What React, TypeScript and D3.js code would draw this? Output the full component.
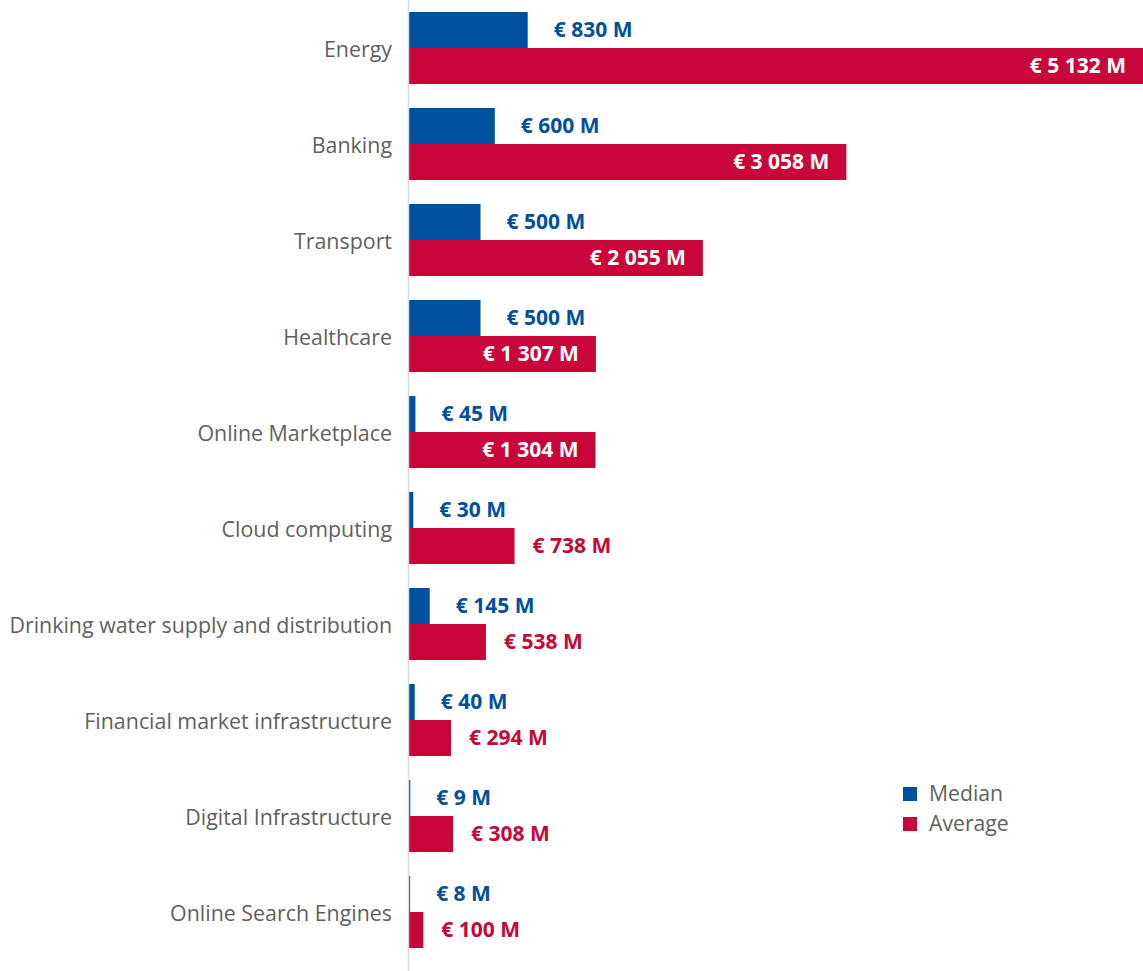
import React, { useRef, useEffect } from 'react';
import * as d3 from 'd3';

// sectors, top to bottom
const categories = [
  'Energy',
  'Banking',
  'Transport',
  'Healthcare',
  'Online Marketplace',
  'Cloud computing',
  'Drinking water supply and distribution',
  'Financial market infrastructure',
  'Digital Infrastructure',
  'Online Search Engines',
];

// values in € million
const medianValues = [830, 600, 500, 500, 45, 30, 145, 40, 9, 8];
const averageValues = [5132, 3058, 2055, 1307, 1304, 738, 538, 294, 308, 100];

const seriesNames = ['Median', 'Average'];
const seriesColors = ['#00509f', '#c8063a'];

const WIDTH = 1143;
const HEIGHT = 971;
const AXIS_X = 409;
const FONT = "'Open Sans', sans-serif";

const fmt = (v: number) => {
  const s = String(v).replace(/\B(?=(\d{3})+(?!\d))/g, ' ');
  return `€ ${s} M`;
};

const App: React.FC = () => {
  const svgRef = useRef<SVGSVGElement>(null);

  useEffect(() => {
    if (!svgRef.current) return;
    const svg = d3.select(svgRef.current);
    svg.selectAll('*').remove();

    const x = d3.scaleLinear()
      .domain([0, d3.max(averageValues) as number])
      .range([AXIS_X, WIDTH]);

    const y = d3.scaleBand()
      .domain(categories)
      .range([0, 960])
      .paddingInner(0.25)
      .paddingOuter(0.125);

    const ySub = d3.scaleBand()
      .domain(seriesNames)
      .range([0, y.bandwidth()]);

    const rows = categories.map((c, i) => ({
      category: c,
      values: [medianValues[i], averageValues[i]],
    }));

    // bars
    const group = svg.append('g')
      .selectAll('g')
      .data(rows)
      .enter()
      .append('g')
      .attr('transform', d => `translate(0,${y(d.category)})`);

    seriesNames.forEach((name, si) => {
      group.append('rect')
        .attr('x', AXIS_X)
        .attr('y', ySub(name) as number)
        .attr('width', d => x(d.values[si]) - AXIS_X)
        .attr('height', ySub.bandwidth())
        .attr('fill', seriesColors[si]);
    });

    // value labels: inside the red bar when it fits, otherwise after the bar
    seriesNames.forEach((name, si) => {
      group.append('text')
        .attr('y', (ySub(name) as number) + ySub.bandwidth() / 2)
        .attr('dy', '0.35em')
        .style('font-family', FONT)
        .style('font-size', '21px')
        .style('font-weight', 700)
        .text(d => fmt(d.values[si]))
        .each(function (d) {
          const t = d3.select(this);
          const w = (this as SVGTextElement).getComputedTextLength();
          const end = x(d.values[si]);
          const barW = end - AXIS_X;
          if (si === 1 && barW > w + 40) {
            t.attr('x', end - 17).attr('text-anchor', 'end').attr('fill', '#fff');
          } else {
            t.attr('x', end + (si === 0 ? 26 : 18))
              .attr('text-anchor', 'start')
              .attr('fill', seriesColors[si]);
          }
        });
    });

    // axis line
    svg.append('line')
      .attr('x1', AXIS_X - 0.5)
      .attr('x2', AXIS_X - 0.5)
      .attr('y1', 0)
      .attr('y2', HEIGHT)
      .attr('stroke', '#d9d9d9')
      .attr('stroke-width', 1.5);

    // category labels
    svg.append('g')
      .selectAll('text')
      .data(categories)
      .enter()
      .append('text')
      .attr('x', AXIS_X - 17)
      .attr('y', d => (y(d) as number) + y.bandwidth() / 2 + 2)
      .attr('dy', '0.35em')
      .attr('text-anchor', 'end')
      .attr('fill', '#5f5f5f')
      .style('font-family', FONT)
      .style('font-size', '21.4px')
      .style('font-weight', 400)
      .text(d => d);

    // legend
    const legend = svg.append('g').attr('transform', 'translate(903,787)');
    seriesNames.forEach((name, i) => {
      legend.append('rect')
        .attr('x', 0)
        .attr('y', i * 30)
        .attr('width', 14)
        .attr('height', 14)
        .attr('fill', seriesColors[i]);
      legend.append('text')
        .attr('x', 26)
        .attr('y', i * 30 + 7)
        .attr('dy', '0.35em')
        .attr('fill', '#5f5f5f')
        .style('font-family', FONT)
        .style('font-size', '21.2px')
        .style('font-weight', 400)
        .text(name);
    });
  }, []);

  return (
    <div style={{ position: 'absolute', left: 0, top: 0 }}>
      <svg ref={svgRef} width={WIDTH} height={HEIGHT} style={{ display: 'block', background: '#fff' }} />
    </div>
  );
};

export default App;
